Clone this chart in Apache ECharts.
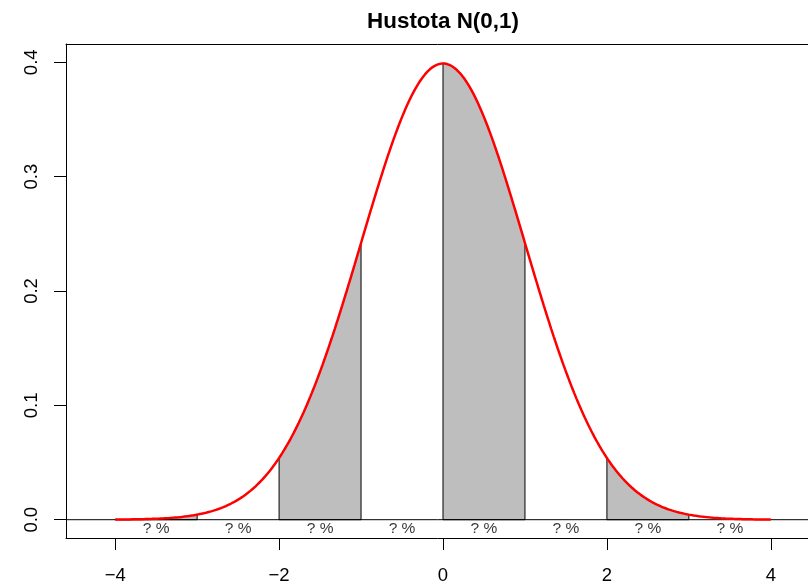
<!DOCTYPE html>
<html>
<head>
<meta charset="utf-8">
<script src="https://cdn.jsdelivr.net/npm/echarts@6/dist/echarts.min.js"></script>
<style>
  html, body { margin: 0; padding: 0; background: #fff; }
  #chart { width: 808px; height: 583px; }
</style>
</head>
<body>
<div id="chart"></div>
<script>
// Standard normal distribution N(0,1)
const mu = 0;
const sigma = 1;
const curveFrom = -4;
const curveTo = 4;
const curveStep = 0.01;

// Unit intervals under the curve, every other one shaded
const shadedIntervals = [[-4, -3], [-2, -1], [0, 1], [2, 3]];
// Probability placeholders written under each unit interval
const intervalMids = [-3.5, -2.5, -1.5, -0.5, 0.5, 1.5, 2.5, 3.5];
const intervalLabels = ['? %', '? %', '? %', '? %', '? %', '? %', '? %', '? %'];

const xTicks = [-4, -2, 0, 2, 4];
const yTicks = [0, 0.1, 0.2, 0.3, 0.4];
const titleText = 'Hustota N(0,1)';

const FONT = '"Liberation Sans", Arial, Helvetica, sans-serif';

function density(x) {
  const z = (x - mu) / sigma;
  return Math.exp(-0.5 * z * z) / (sigma * Math.sqrt(2 * Math.PI));
}

function curvePoints(a, b) {
  const pts = [];
  const n = Math.round((b - a) / curveStep);
  for (let i = 0; i <= n; i++) {
    const x = a + (b - a) * i / n;
    pts.push([x, density(x)]);
  }
  return pts;
}

const curve = curvePoints(curveFrom, curveTo);
const polygons = shadedIntervals.map(([a, b]) =>
  [[a, 0]].concat(curvePoints(a, b), [[b, 0]])
);

// Plot region: the frame runs past the right edge of the page,
// so its left, top and bottom sides are drawn as axis lines.
const grid = { left: 66, top: 44, width: 754, height: 494 };
const xRange = [-4.6, 4.6];
const yRange = [-0.016, 0.416];

const chart = echarts.init(document.getElementById('chart'), null, { renderer: 'canvas' });

const frameLine = { show: true, onZero: false, lineStyle: { color: '#000', width: 1 } };

chart.setOption({
  backgroundColor: '#ffffff',
  animation: false,
  graphic: [{
    type: 'text',
    x: grid.left + grid.width / 2,
    y: 22,
    style: {
      text: titleText,
      font: 'bold 22.4px ' + FONT,
      fill: '#000',
      align: 'center',
      verticalAlign: 'middle'
    }
  }],
  grid: {
    left: grid.left, top: grid.top, width: grid.width, height: grid.height,
    containLabel: false,
    outerBoundsMode: 'none',
    show: false
  },
  xAxis: [{
    type: 'value',
    position: 'bottom',
    min: xRange[0], max: xRange[1],
    splitLine: { show: false },
    axisLine: frameLine,
    axisTick: { show: true, length: 12, lineStyle: { color: '#000', width: 1 }, customValues: xTicks },
    axisLabel: {
      customValues: xTicks,
      margin: 28,
      fontFamily: FONT, fontSize: 18.5, color: '#000',
      formatter: v => (v < 0 ? '\u2212' + Math.abs(v) : String(v))
    }
  }, {
    type: 'value',
    position: 'top',
    min: xRange[0], max: xRange[1],
    splitLine: { show: false },
    axisLine: frameLine,
    axisTick: { show: false },
    axisLabel: { show: false }
  }],
  yAxis: {
    type: 'value',
    min: yRange[0], max: yRange[1],
    splitLine: { show: false },
    axisLine: frameLine,
    axisTick: { show: true, length: 12, lineStyle: { color: '#000', width: 1 }, customValues: yTicks },
    axisLabel: {
      customValues: yTicks,
      rotate: 90,
      margin: 25,
      fontFamily: FONT, fontSize: 18.5, color: '#000',
      formatter: v => v.toFixed(1)
    }
  },
  series: [
    {
      type: 'custom',
      name: 'shaded',
      data: polygons.map((p, i) => [i]),
      renderItem: (params, api) => {
        const poly = polygons[params.dataIndex];
        return {
          type: 'polygon',
          shape: { points: poly.map(p => api.coord(p)) },
          style: { fill: '#BEBEBE', stroke: '#000', lineWidth: 1 }
        };
      },
      z: 1
    },
    {
      type: 'line',
      name: 'zero',
      data: [[xRange[0], 0], [xRange[1], 0]],
      symbol: 'none',
      lineStyle: { color: '#000', width: 1 },
      z: 2
    },
    {
      type: 'line',
      name: 'density',
      data: curve,
      symbol: 'none',
      smooth: false,
      lineStyle: { color: '#ff0000', width: 2.5 },
      z: 3
    },
    {
      type: 'scatter',
      name: 'labels',
      data: intervalMids.map((m, i) => ({ value: [m, 0], label: { formatter: intervalLabels[i] } })),
      symbolSize: 0,
      label: {
        show: true,
        position: 'inside',
        offset: [0, 9.5],
        fontFamily: FONT, fontSize: 15.5, color: '#000'
      },
      z: 4
    }
  ]
});
</script>
</body>
</html>
